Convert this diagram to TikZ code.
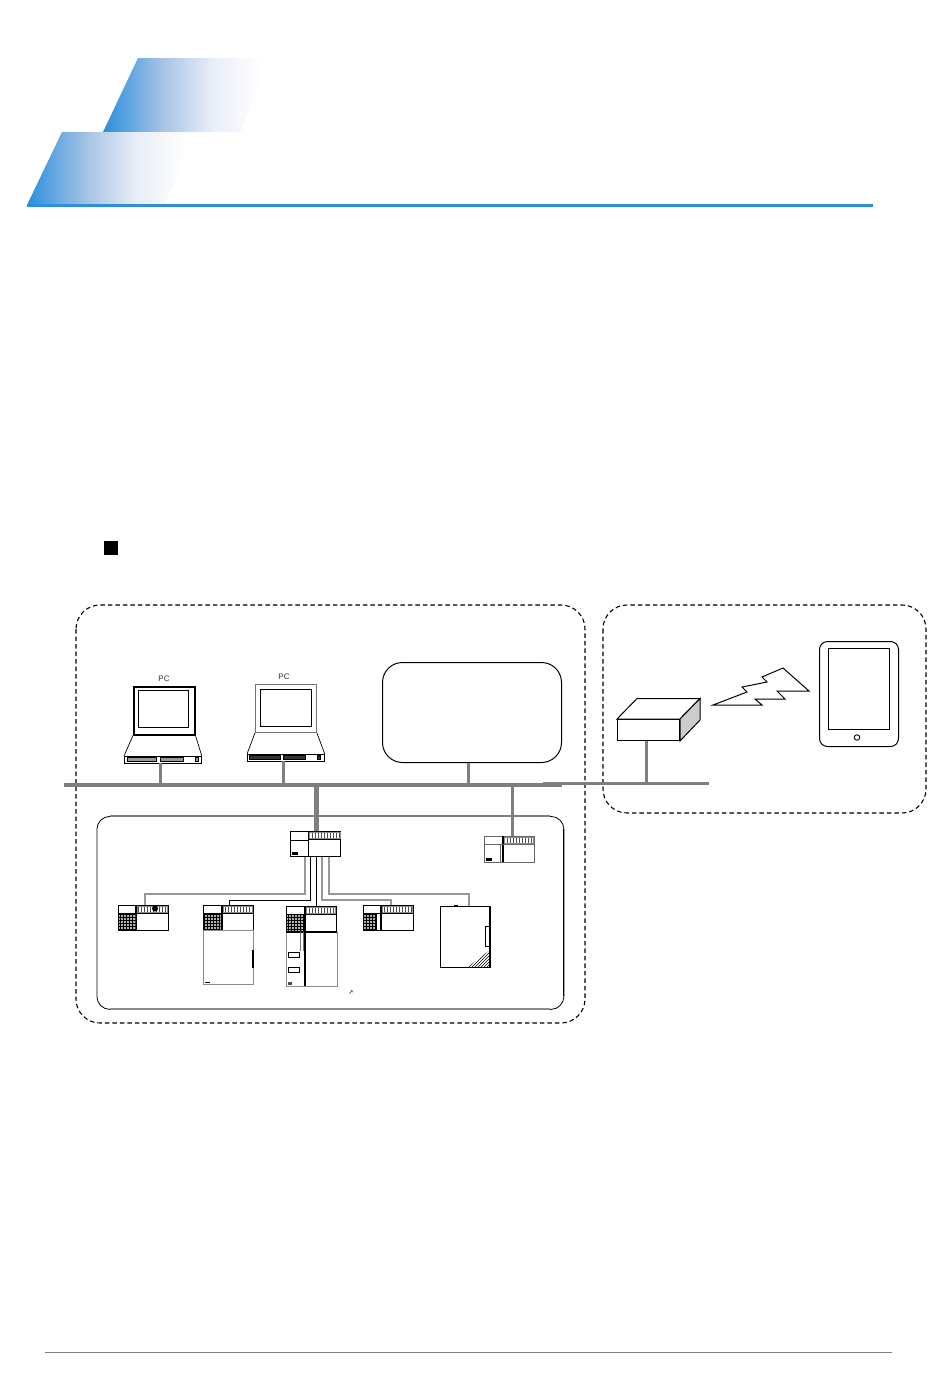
\documentclass[tikz,border=0pt]{standalone}
\usepackage{fontspec}
\setmainfont{Liberation Sans}
\newfontfamily\symbolfont{DejaVu Sans}
\usetikzlibrary{patterns}
\definecolor{headblue}{HTML}{2C8FDB}
\definecolor{headmid}{HTML}{A9C4E6}
\definecolor{headpale}{HTML}{E8EDF7}
\definecolor{busgrey}{HTML}{7F7F7F}
\pgfdeclarehorizontalshading{headfade}{100bp}{color(0bp)=(headblue); color(25bp)=(headblue); color(43bp)=(headmid); color(57bp)=(headpale); color(72bp)=(white); color(100bp)=(white)}

\begin{document}
\begin{tikzpicture}[
  x=1pt, y=-1pt,
  regionbox/.style={draw, dashed, line width=1.1pt, dash pattern=on 4.5pt off 3pt, rounded corners=24pt},
  unitbox/.style={draw, rectangle, line width=1pt, anchor=north west, inner sep=0pt, minimum width=#1},
  unitbox/.default=50pt,
  pcbase/.style={draw, rectangle, line width=0.8pt, anchor=north west, inner sep=0pt, minimum width=77pt, minimum height=6.5pt},
  pctext/.style={font=\fontsize{8}{9}\selectfont, text=black!80, inner sep=0pt},
  bus/.style={busgrey, line width=3.5pt},
  stem/.style={busgrey, line width=3pt},
  greywire/.style={busgrey!80, line width=1.8pt},
  blackwire/.style={black, line width=0.9pt},
  terminals/.style={pattern=vertical lines, pattern color=black!70, draw=black!45, line width=0.6pt},
  ioblock/.style={fill=black!30, postaction={pattern=grid, pattern color=black}}
]

% heading
\shade[shading=headfade, draw=none]
  (138,58) -- (272,58) -- (240,132) -- (103,132) -- cycle;
\shade[shading=headfade, draw=none]
  (62,132) -- (197,132) -- (164,205) -- (27,205) -- cycle;
\draw[headblue, line width=3pt] (27,205) -- (873,205);
\node[fill=black, minimum size=14pt, inner sep=0pt] (mark) at (111,548) {};

% regions
\draw[regionbox] (76,605) rectangle (585,1023);
\draw[regionbox] (603,605) rectangle (926,813);
\node[draw, rectangle, line width=1pt, rounded corners=20pt, anchor=north west, inner sep=0pt,
  minimum width=179pt, minimum height=100pt] (server) at (382,662) {};
\node[draw, rectangle, line width=0.8pt, rounded corners=13pt, anchor=north west, inner sep=0pt,
  minimum width=467pt, minimum height=193pt] (plcarea) at (96.5,816) {};
\draw[busgrey, line width=2pt] (110,816) -- (550,816);
\draw[black!45, line width=2pt] (110,1009) -- (550,1009);
\draw[black, line width=1.8pt] (563.5,829) -- (563.5,996);

% bus lines
\coordinate (busleft) at (64,785);
\coordinate (busright) at (562,785);
\coordinate (wifileft) at (543,783);
\coordinate (wifiright) at (709,783);
\draw[bus] (busleft) -- (busright);
\draw[stem] (wifileft) -- (wifiright);

% personal computers
\node[draw, line width=1.5pt, rectangle, anchor=north west, inner sep=0pt, minimum width=61pt, minimum height=48pt] (pcone) at (133,686) {};
\node[draw, line width=1.3pt, rectangle, anchor=north west, inner sep=0pt, minimum width=50pt, minimum height=37pt] (pconein) at (138,690) {};
\node[pcbase] (pconebase) at (124,756) {};
\draw[line width=0.7pt] (pcone.south west) -- (pconebase.north west);
\draw[line width=0.7pt] (pcone.south east) -- (pconebase.north east);
\draw[fill=black!40, line width=0.5pt] (127,757.5) rectangle (156,761) (160,757.5) rectangle (183,761);
\draw[fill=black!40, line width=0.5pt] (195,757.5) rectangle (198,761);
\node[pctext] (pconetext) at (164,678.5) {PC};

\node[draw=black!55, line width=0.9pt, rectangle, anchor=north west, inner sep=0pt, minimum width=61pt, minimum height=48pt] (pctwo) at (255,684) {};
\node[draw, line width=0.8pt, rectangle, anchor=north west, inner sep=0pt, minimum width=51pt, minimum height=37pt] (pctwoin) at (260,689) {};
\node[pcbase] (pctwobase) at (247,754) {};
\draw[line width=0.7pt] (pctwo.south west) -- (pctwobase.north west);
\draw[line width=0.7pt] (pctwo.south east) -- (pctwobase.north east);
\draw[fill=black!80, line width=0.5pt] (249,755.5) rectangle (280,759) (283,755.5) rectangle (305,759);
\draw[fill=black!80, line width=0.5pt] (317,755.5) rectangle (320,759);
\node[pctext] (pctwotext) at (284,677) {PC};

\draw[stem] ([xshift=-2.5pt]pconebase.south) -- ([xshift=-2.5pt]pconebase.south |- busleft);
\draw[stem] ([xshift=-2.5pt]pctwobase.south) -- ([xshift=-2.5pt]pctwobase.south |- busleft);
\draw[stem] (server.south -| 468,0) -- (468,785);

% controllers, top row
\node[unitbox, minimum height=25pt] (hub) at (290,831) {};
\node[unitbox, minimum height=26pt, draw=black!60] (remote) at (484,836) {};
\draw[busgrey, line width=5pt] (316,785) -- ([xshift=26pt]hub.north west);
\draw[stem] (512,785) -- ([xshift=28pt]remote.north west);
\draw[line width=1pt] (308,831) -- (308,856) (290,840) -- (308,840) (308,839) -- (341,839);
\draw[terminals] (309,832) rectangle (340,838.5);
\fill (292,852) rectangle (298,855);
\draw[line width=1.4pt] (503,836) -- (503,862);
\draw[line width=0.7pt, black!60] (500,844) -- (500,862) (484,844) -- (534,844);
\draw[terminals] (504,837) rectangle (533.5,843.5);
\fill (486,858) rectangle (492,861);

% controllers, lower row
\foreach \unitname/\x/\y/\split in {unita/118/905/18, unitb/203/905/19, unitc/286/906/19, unitd/363/905/18}{
  \node[unitbox, minimum height=25pt] (\unitname) at (\x,\y) {};
  \draw[line width=1.2pt] (\x+\split,\y) -- (\x+\split,\y+25);
  \draw[line width=0.8pt] (\x,\y+8) -- (\x+50,\y+8);
  \draw[terminals] (\x+\split+1,\y+1) rectangle (\x+49.5,\y+7.5);
}
\fill[ioblock] (118.5,914) rectangle (135.5,929.5);
\fill[ioblock] (203.5,914) rectangle (220.5,929.5);
\fill[ioblock] (286.5,915) rectangle (304,930.5);
\fill[ioblock] (363.5,914) rectangle (376,929.5);
\draw[line width=0.7pt] (376.5,913) -- (376.5,930);
\fill (155,908.5) circle (3pt);

% power unit below second controller
\node[unitbox, minimum height=54pt, draw=black!45, line width=1.2pt] (unitbbody) at (203,930) {};
\draw[line width=1.4pt] (253,950) -- (253,968);
\fill (205,981.5) rectangle (210,983);

% large unit
\node[unitbox=51pt, minimum height=54pt, draw=black!45, line width=1.2pt] (unitcbody) at (286,932) {};
\draw[line width=1.6pt] (305,906) -- (305,986) (286,932) -- (337,932);
\draw[black!55, line width=0.7pt] (300,932) -- (300,951) (303,932) -- (303,951);
\node[draw, rectangle, line width=0.7pt, anchor=north west, inner sep=0pt, minimum width=11pt, minimum height=5pt] (slotone) at (288,952) {};
\node[draw, rectangle, line width=0.7pt, anchor=north west, inner sep=0pt, minimum width=11pt, minimum height=5pt] (slottwo) at (288,967) {};
\fill[black!70] (288,982) rectangle (292,985);
\node[inner sep=0pt, font=\symbolfont\fontsize{6}{7}\selectfont] (pointer) at (351,992.5) {↗};

% drive unit
\node[unitbox, minimum height=61pt] (drive) at (440,906) {};
\draw[line width=1.6pt] (490,906) -- (490,967);
\node[draw, rectangle, line width=0.8pt, anchor=north west, inner sep=0pt, minimum width=5pt, minimum height=20pt] (driveslot) at (484.5,926) {};
\fill[pattern=north east lines] (468,967) -- (490,950) -- (490,967) -- cycle;
\fill (454,905) rectangle (458,907);

% wiring from the hub
\draw[greywire] ([xshift=15pt]hub.south west) -- ++(0,37) -| ([xshift=27pt]unita.north west);
\draw[blackwire] ([xshift=20pt]hub.south west) -- ++(0,43) -| ([xshift=26pt]unitb.north west);
\draw[blackwire] ([xshift=26.5pt]hub.south west) -- ([xshift=30.5pt]unitc.north west);
\draw[greywire] ([xshift=32pt]hub.south west) -- ++(0,43) -| ([xshift=28pt]unitd.north west);
\draw[greywire] ([xshift=39pt]hub.south west) -- ++(0,37) -| ([xshift=29pt]drive.north west);

% wireless side
\node[draw, rectangle, line width=1pt, fill=white, anchor=north west, inner sep=0pt, minimum width=62pt, minimum height=21pt] (router) at (617,719) {};
\draw[line width=1pt, fill=white] (router.north west) -- (637,698.5) -- (700,698.5) -- (router.north east) -- cycle;
\draw[line width=1pt, fill=black!20] (router.north east) -- (700,698.5) -- (700,720) -- (router.south east) -- cycle;
\draw[stem] (router.south -| 646,0) -- (646,783);
\draw[line width=1pt, line join=miter]
  (713,705) -- (747,692) -- (742,687) -- (767,682) -- (762,677) -- (783,668) -- (809,691)
  -- (777,691) -- (785,699) -- (755,699) -- (762,705) -- cycle;
\node[draw, rectangle, line width=1pt, rounded corners=8pt, anchor=north west, inner sep=0pt, minimum width=79pt, minimum height=105pt] (tablet) at (819,641) {};
\node[draw, rectangle, line width=0.9pt, anchor=north west, inner sep=0pt, minimum width=61pt, minimum height=81pt] (tabletscreen) at (828,648) {};
\node[draw, circle, line width=0.9pt, inner sep=0pt, minimum size=5.5pt] (tabletbutton) at (857,737.5) {};

% footer
\coordinate (footleft) at (45,1352);
\coordinate (footright) at (892,1352);
\draw[black!50, line width=0.7pt] (footleft) -- (footright);

\useasboundingbox (0,0) rectangle (950,1379);
\end{tikzpicture}
\end{document}
